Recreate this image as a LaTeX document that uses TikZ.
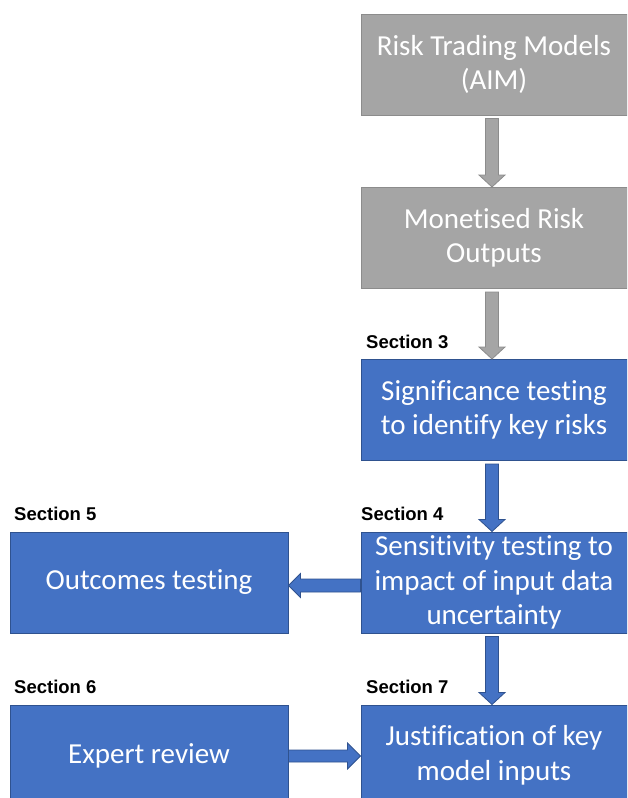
\documentclass[tikz,border=0pt]{standalone}
\usepackage{fontspec}
\setmainfont{Carlito}[Ligatures={NoCommon}]
\newfontfamily\secfont{Liberation Sans}
\usetikzlibrary{calc}
\definecolor{grayfill}{HTML}{A5A5A5}
\definecolor{grayline}{HTML}{8C8C8C}
\definecolor{bluefill}{HTML}{4472C4}
\definecolor{blueline}{HTML}{2F528F}
\newcommand\varrowblk[3]{\path[#3] ($(#1.south)+(-8.5pt,-3pt)$) -- ($(#2.north)+(-8.5pt,12pt)$) -- ($(#2.north)+(-15pt,12pt)$) -- ($(#2.north)+(-2pt,0pt)$) -- ($(#2.north)+(11pt,12pt)$) -- ($(#2.north)+(4.5pt,12pt)$) -- ($(#1.south)+(4.5pt,-3pt)$) -- cycle;}
\newcommand\larrowblk[3]{\path[#3] ($(#1.west)+(0pt,3.5pt)$) -- ($(#2.east)+(12pt,3.5pt)$) -- ($(#2.east)+(12pt,9pt)$) -- ($(#2.east)+(0pt,-3pt)$) -- ($(#2.east)+(12pt,-15pt)$) -- ($(#2.east)+(12pt,-9.5pt)$) -- ($(#1.west)+(0pt,-9.5pt)$) -- cycle;}
\newcommand\rarrowblk[3]{\path[#3] ($(#1.east)+(0pt,5.5pt)$) -- ($(#2.west)+(-13pt,5.5pt)$) -- ($(#2.west)+(-13pt,12.5pt)$) -- ($(#2.west)+(0pt,-0.5pt)$) -- ($(#2.west)+(-13pt,-13.5pt)$) -- ($(#2.west)+(-13pt,-6.5pt)$) -- ($(#1.east)+(0pt,-6.5pt)$) -- cycle;}
\begin{document}
\begin{tikzpicture}[x=1pt,y=-1pt,
  graybox/.style={draw=grayline, fill=grayfill, line width=1pt, minimum width=266pt, minimum height=101pt, inner sep=0pt, text=white, align=center, font=\fontsize{29}{34.5}\selectfont},
  bluebox/.style={graybox, draw=blueline, fill=bluefill},
  seclabel/.style={anchor=west, inner sep=0pt, font=\secfont\bfseries\fontsize{18.5}{20}\selectfont},
  grayarrow/.style={draw=grayline, fill=grayfill, line width=0.8pt},
  bluearrow/.style={draw=blueline, fill=bluefill, line width=0.8pt}]
\useasboundingbox (0,0) rectangle (627,798);
\clip (0,0) rectangle (627,798);
\fill[white] (0,0) rectangle (627,798);
\node[graybox] (b1) at (494,64.5) {Risk Trading Models\\(AIM)};
\node[graybox] (b2) at (494,238) {Monetised Risk\\Outputs};
\node[bluebox] (b3) at (494,410) {Significance testing\\to identify key risks};
\node[bluebox] (b4) at (494,582.5) {Sensitivity testing to\\impact of input data\\uncertainty};
\node[bluebox, minimum width=278pt] (b5) at (149,582.5) {Outcomes testing};
\node[bluebox, minimum width=278pt] (b6) at (149,755.5) {Expert review};
\node[bluebox] (b7) at (494,755.5) {Justification of key\\model inputs};
\node[seclabel] (s3) at (366,342) {Section 3};
\node[seclabel] (s4) at (361,513.5) {Section 4};
\node[seclabel] (s5) at (14,513.5) {Section 5};
\node[seclabel] (s6) at (14,686.5) {Section 6};
\node[seclabel] (s7) at (366,686.5) {Section 7};
\varrowblk{b1}{b2}{grayarrow}
\varrowblk{b2}{b3}{grayarrow}
\varrowblk{b3}{b4}{bluearrow}
\varrowblk{b4}{b7}{bluearrow}
\larrowblk{b4}{b5}{bluearrow}
\rarrowblk{b6}{b7}{bluearrow}
\end{tikzpicture}
\end{document}
